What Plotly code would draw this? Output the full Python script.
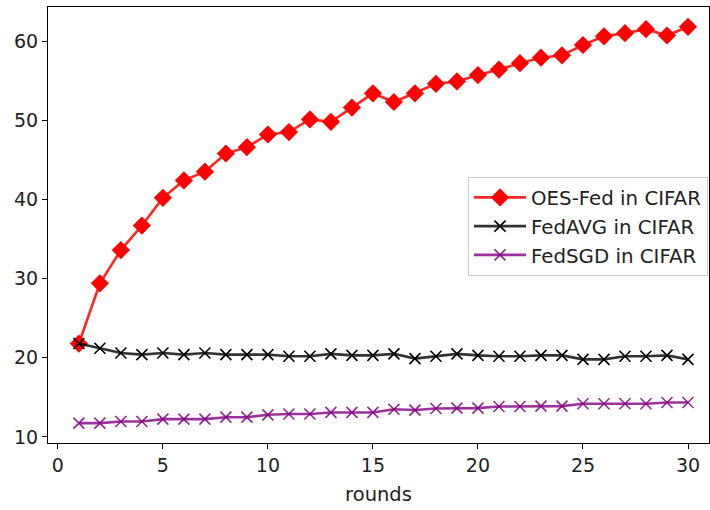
import plotly.graph_objects as go

rounds = list(range(1, 31))
oes_fed = [21.8, 29.4, 33.6, 36.7, 40.2, 42.4, 43.5, 45.8, 46.6, 48.2,
           48.5, 50.1, 49.8, 51.6, 53.4, 52.3, 53.4, 54.6, 54.9, 55.7,
           56.4, 57.2, 57.9, 58.2, 59.5, 60.6, 61.0, 61.5, 60.7, 61.8]
fedavg = [21.8, 21.2, 20.6, 20.4, 20.6, 20.4, 20.6, 20.4, 20.4, 20.4,
          20.2, 20.2, 20.5, 20.3, 20.3, 20.5, 19.9, 20.2, 20.5, 20.3,
          20.2, 20.2, 20.3, 20.3, 19.8, 19.8, 20.2, 20.2, 20.3, 19.8]
fedsgd = [11.75, 11.75, 11.95, 11.95, 12.25, 12.25, 12.25, 12.5, 12.5, 12.8,
          12.9, 12.9, 13.1, 13.1, 13.1, 13.5, 13.4, 13.6, 13.65, 13.65,
          13.85, 13.85, 13.9, 13.9, 14.2, 14.2, 14.2, 14.2, 14.35, 14.35]
names = ["OES-Fed in CIFAR", "FedAVG in CIFAR", "FedSGD in CIFAR"]
x_ticks = [0, 5, 10, 15, 20, 25, 30]
y_ticks = [10, 20, 30, 40, 50, 60]

fig = go.Figure()
fig.add_trace(go.Scatter(
    x=rounds, y=oes_fed, name=names[0], mode="lines+markers", legendgroup="a",
    line=dict(color="rgba(255,0,0,0.85)", width=2.6),
    marker=dict(symbol="diamond", size=14, color="#ff0000"),
))
fig.add_trace(go.Scatter(
    x=rounds, y=fedavg, name=names[1], mode="lines+markers", legendgroup="b",
    line=dict(color="rgba(0,0,0,0.8)", width=2.6),
    marker=dict(symbol="x-thin", size=11, color="#000000",
                line=dict(color="#000000", width=1.6)),
))
fig.add_trace(go.Scatter(
    x=rounds, y=fedsgd, name=names[2], mode="lines+markers", legendgroup="c",
    line=dict(color="rgba(128,0,128,0.8)", width=2.6),
    marker=dict(symbol="x-thin", size=11, color="#800080",
                line=dict(color="rgba(128,0,128,0.85)", width=1.6)),
))

axis_common = dict(
    showline=True, linecolor="#000000", linewidth=1.2, mirror=True,
    ticks="outside", ticklen=5, tickwidth=1.2, tickcolor="#000000",
    showgrid=False, zeroline=False,
    tickfont=dict(family="DejaVu Sans", size=19, color="#222222"),
)

fig.update_layout(
    width=710, height=510,
    margin=dict(l=48, r=1, t=7, b=67),
    paper_bgcolor="white", plot_bgcolor="white",
    font=dict(family="DejaVu Sans", size=19, color="#222222"),
    xaxis=dict(range=[-0.47, 31.0], tickvals=x_ticks,
               title=dict(text="rounds", standoff=12,
                          font=dict(family="DejaVu Sans", size=19.5, color="#222222")),
               **axis_common),
    yaxis=dict(range=[9.24, 64.3], tickvals=y_ticks, **axis_common),
    legend=dict(
        x=0.9985, y=0.61, xanchor="right", yanchor="top",
        bgcolor="white", bordercolor="#cccccc", borderwidth=1,
        font=dict(family="DejaVu Sans", size=19.8, color="#222222"),
        itemwidth=52, tracegroupgap=0,
    ),
    showlegend=True,
)

fig.write_html(
    "out.html",
    config={"displayModeBar": False},
    post_script="document.body.style.margin='0';document.body.style.overflow='hidden';",
)
